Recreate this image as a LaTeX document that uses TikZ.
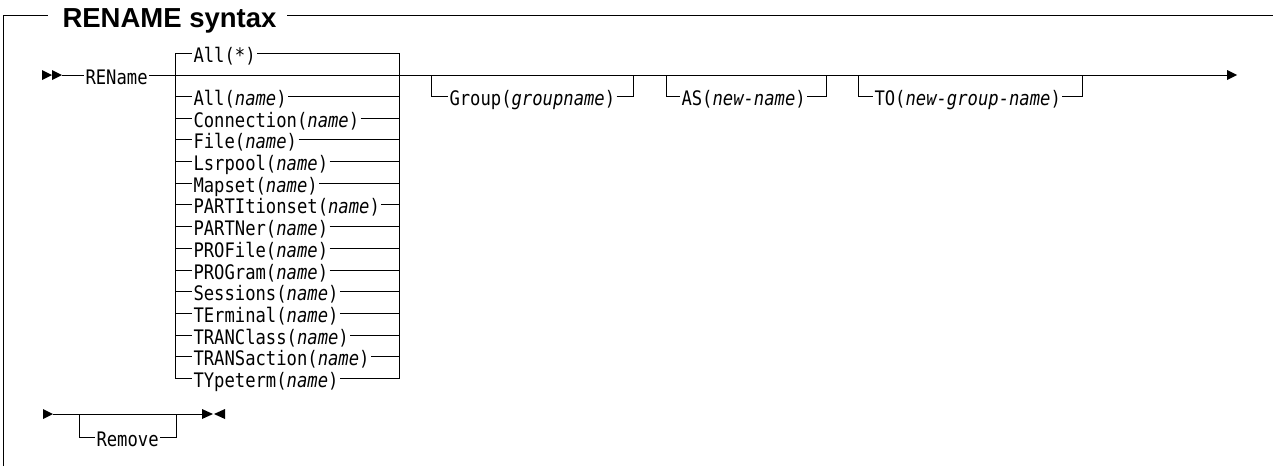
\documentclass[tikz,border=0pt]{standalone}
\usepackage{fontspec}
\setmainfont{Liberation Sans}
\newfontfamily\rrmono[FakeStretch=0.86]{DejaVu Sans Mono}
\usetikzlibrary{arrows.meta}
\newcommand\va[1]{{\itshape #1}}
\begin{document}
\begin{tikzpicture}[x=1pt,y=-1pt,line width=1pt,
  syn/.style={font=\rrmono\fontsize{20}{22}\selectfont,inner sep=0pt,outer sep=1.5pt,
              text height=18pt,text depth=0pt,anchor=west},
  tri/.style={fill=black,draw=none}]
\useasboundingbox (0,0) rectangle (1273,466);
% frame and title
\node[anchor=base west,font=\bfseries\fontsize{27.5}{30}\selectfont,inner sep=0pt] (title) at (62,27) {RENAME syntax};
\draw (3,466) -- (3,15) -- (48,15);
\draw (287,15) -- (1273,15);
% start arrows
\fill[tri] (42,70) -- (52,75) -- (42,80) -- cycle;
\fill[tri] (52,70) -- (62,75) -- (52,80) -- cycle;
\coordinate (s1) at (62,75);
\node[syn] (ren) at (84,75) {REName};
\coordinate (e1) at (1227,75);
\draw (s1) -- (ren.west);
\draw (ren.east) -- (e1);
\fill[tri] (1227,70) -- (1237,75) -- (1227,80) -- cycle;
% choice box
\coordinate (bl) at (175,53);
\coordinate (br) at (399,53);
\coordinate (bbl) at (175,378.5);
\coordinate (bbr) at (399,378.5);
\draw (bl) -- (bbl);
\draw (br) -- (bbr);
\node[syn] (r0) at (192,53) {All(*)};
\node[syn] (r2) at (192,96.4) {All(\va{name})};
\node[syn] (r3) at (192,118.1) {Connection(\va{name})};
\node[syn] (r4) at (192,139.8) {File(\va{name})};
\node[syn] (r5) at (192,161.5) {Lsrpool(\va{name})};
\node[syn] (r6) at (192,183.2) {Mapset(\va{name})};
\node[syn] (r7) at (192,204.9) {PARTItionset(\va{name})};
\node[syn] (r8) at (192,226.6) {PARTNer(\va{name})};
\node[syn] (r9) at (192,248.3) {PROFile(\va{name})};
\node[syn] (r10) at (192,270.0) {PROGram(\va{name})};
\node[syn] (r11) at (192,291.7) {Sessions(\va{name})};
\node[syn] (r12) at (192,313.4) {TErminal(\va{name})};
\node[syn] (r13) at (192,335.1) {TRANClass(\va{name})};
\node[syn] (r14) at (192,356.8) {TRANSaction(\va{name})};
\node[syn] (r15) at (192,378.5) {TYpeterm(\va{name})};
\foreach \r in {r0,r2,r3,r4,r5,r6,r7,r8,r9,r10,r11,r12,r13,r14,r15}{
  \draw (175,0 |- \r.west) -- (\r.west);
  \draw (\r.east) -- (399,0 |- \r.east);
}
% optional Group
\node[syn] (grp) at (448,96.4) {Group(\va{groupname})};
\draw (431,75) -- (431,96.4) -- (grp.west);
\draw (grp.east) -- (633,96.4) -- (633,75);
% optional AS
\node[syn] (as) at (680,96.4) {AS(\va{new-name})};
\draw (666,75) -- (666,96.4) -- (as.west);
\draw (as.east) -- (826,96.4) -- (826,75);
% optional TO
\node[syn] (to) at (873,96.4) {TO(\va{new-group-name})};
\draw (858,75) -- (858,96.4) -- (to.west);
\draw (to.east) -- (1082,96.4) -- (1082,75);
% second line
\fill[tri] (43,409) -- (53,414) -- (43,419) -- cycle;
\coordinate (s2) at (53,414);
\coordinate (e2) at (202,414);
\draw (s2) -- (e2);
\fill[tri] (202,409) -- (213,414) -- (202,419) -- cycle;
\fill[tri] (225,409) -- (214,414) -- (225,419) -- cycle;
\node[syn] (rem) at (95,437) {Remove};
\draw (79,414) -- (79,437) -- (rem.west);
\draw (rem.east) -- (176,437) -- (176,414);
\end{tikzpicture}
\end{document}
